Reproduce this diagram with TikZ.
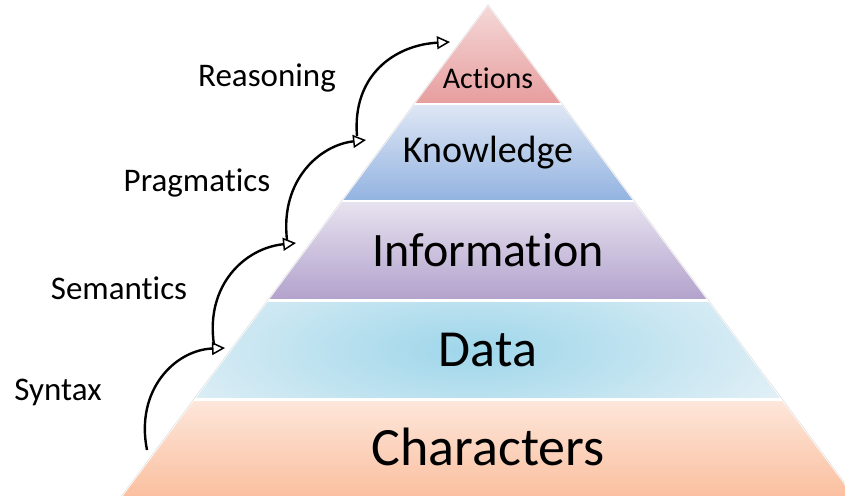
\documentclass[tikz,border=0pt]{standalone}
\usepackage{fontspec}
\setmainfont{Carlito}[Ligatures=NoCommon]
\usetikzlibrary{arrows.meta,calc}
\definecolor{actT}{RGB}{245,216,216}
\definecolor{actB}{RGB}{231,158,158}
\definecolor{knoT}{RGB}{222,230,244}
\definecolor{knoB}{RGB}{148,180,225}
\definecolor{infT}{RGB}{231,226,239}
\definecolor{infB}{RGB}{179,163,205}
\definecolor{datI}{RGB}{158,214,234}
\definecolor{datO}{RGB}{224,239,246}
\definecolor{chaT}{RGB}{253,230,218}
\definecolor{chaB}{RGB}{250,184,148}
\tikzset{
  layertext/.style={font=#1, text=black, inner sep=0pt},
  sidelabel/.style={font=\fontsize{33}{40}\selectfont, text=black, inner sep=0pt},
  flow/.style={line width=2.4pt, -{Triangle[open,length=13pt,width=13pt,line width=1.5pt,fill=white]}},
}
\begin{document}
\begin{tikzpicture}[x=1pt,y=-1pt]
\useasboundingbox (0,0) rectangle (845,495);
% pyramid
\coordinate (apex) at (488,6);
\coordinate (bl) at (488-0.745*509,515);
\coordinate (br) at (488+0.745*509,515);
\draw[black!12, line width=0.6pt] ($(apex)+(0,-1.5)$) -- ($(bl)+(-1.5,0)$) ($(apex)+(0,-1.5)$) -- ($(br)+(1.5,0)$);
\begin{scope}
\clip (0,0) rectangle (845,495);
\clip (apex) -- (bl) -- (br) -- cycle;
\shade[top color=actT, bottom color=actB] (0,6) rectangle (845,102);
\shade[top color=knoT, bottom color=knoB] (0,105) rectangle (845,199);
\shade[top color=infT, bottom color=infB] (0,202) rectangle (845,298);
\begin{scope}
\clip (0,302) rectangle (845,397);
\shade[inner color=datI, outer color=datO] (140,240) rectangle (800,460);
\end{scope}
\shade[top color=chaT, bottom color=chaB] (0,401) rectangle (845,515);
\end{scope}
% layer labels
\node[layertext=\fontsize{30}{36}\selectfont] (actions) at (488,78) {Actions};
\node[layertext=\fontsize{38}{46}\selectfont] (knowledge) at (488,153) {Knowledge};
\node[layertext=\fontsize{48}{58}\selectfont] (information) at (488,250) {Information};
\node[layertext=\fontsize{52}{62}\selectfont] (data) at (488,350) {Data};
\node[layertext=\fontsize{54}{64}\selectfont] (characters) at (488,447) {Characters};
% side labels
\node[sidelabel] (reasoning) at (267,78) {Reasoning};
\node[sidelabel] (pragmatics) at (197,183) {Pragmatics};
\node[sidelabel] (semantics) at (119,288) {Semantics};
\node[sidelabel] (syntax) at (58,392) {Syntax};
% arrows
\coordinate (s1) at (147,450);
\coordinate (h1) at (225,348);
\coordinate (s2) at (214,345);
\coordinate (h2) at (296,243);
\coordinate (s3) at (287,240);
\coordinate (h3) at (366,140);
\coordinate (s4) at (357,136);
\coordinate (h4) at (450,42);
\draw[flow] (s1) .. controls (135,390) and (175,350) .. (h1);
\draw[flow] (s2) .. controls (205,285) and (245,248) .. (h2);
\draw[flow] (s3) .. controls (280,180) and (320,145) .. (h3);
\draw[flow] (s4) .. controls (352,75) and (395,45) .. (h4);
\end{tikzpicture}
\end{document}
